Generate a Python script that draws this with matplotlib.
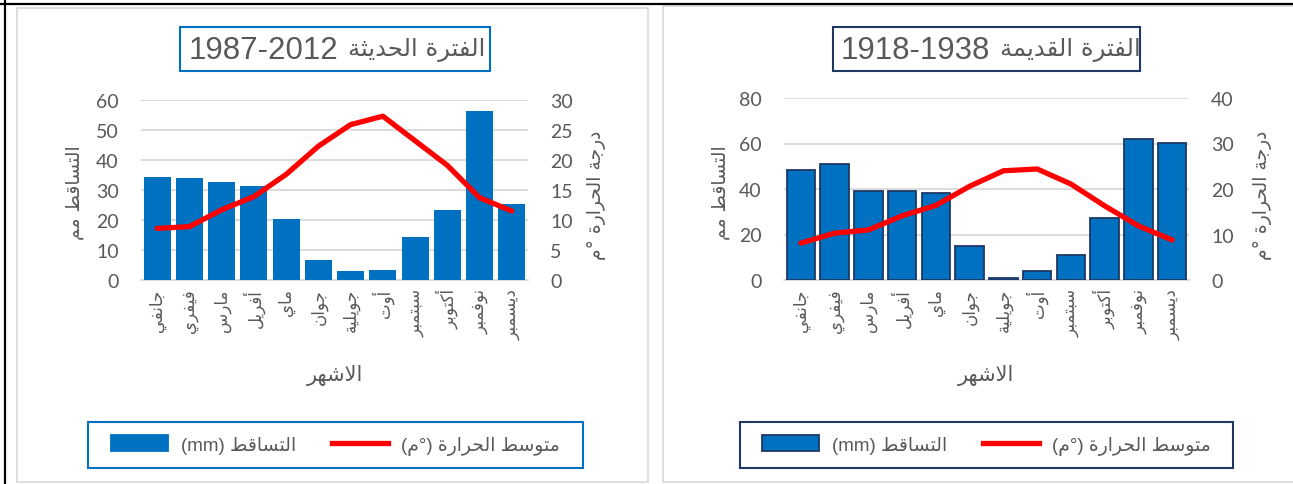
import matplotlib
matplotlib.use("Agg")
import matplotlib.pyplot as plt
from matplotlib.patches import Rectangle, Patch
from matplotlib.lines import Line2D
import numpy as np

# ---- data ----
months = ["جانفي", "فيفري", "مارس", "أفريل", "ماي", "جوان",
          "جويلية", "أوت", "سبتمبر", "أكتوبر", "نوفمبر", "ديسمبر"]

rain_new = [34.5, 34.0, 32.8, 31.4, 20.2, 6.6, 3.0, 3.5, 14.3, 23.4, 56.3, 25.5]
temp_new = [8.6, 8.9, 11.7, 13.9, 17.6, 22.3, 25.9, 27.3, 23.2, 19.1, 13.7, 11.5]

rain_old = [48.3, 51.1, 39.0, 39.0, 38.2, 15.1, 1.0, 4.0, 11.2, 27.2, 62.1, 60.2]
temp_old = [8.1, 10.3, 11.0, 14.1, 16.4, 20.6, 24.0, 24.4, 21.1, 16.3, 11.9, 8.8]

title_new = ("الفترة الحديثة", "1987-2012")
title_old = ("الفترة القديمة", "1918-1938")
rain_label = "التساقط مم"
temp_label = "درجة الحرارة °م"
xlabel = "الاشهر"
leg_rain = ("التساقط", "(mm)")
leg_temp = ("متوسط الحرارة", "م")

# ---- minimal arabic shaping (matplotlib has no text shaping) ----
# char -> (first presentation form, number of forms)
FORMS = {
    '\u0621': (0xFE80, 1), '\u0622': (0xFE81, 2), '\u0623': (0xFE83, 2),
    '\u0624': (0xFE85, 2), '\u0625': (0xFE87, 2), '\u0626': (0xFE89, 4),
    '\u0627': (0xFE8D, 2), '\u0628': (0xFE8F, 4), '\u0629': (0xFE93, 2),
    '\u062A': (0xFE95, 4), '\u062B': (0xFE99, 4), '\u062C': (0xFE9D, 4),
    '\u062D': (0xFEA1, 4), '\u062E': (0xFEA5, 4), '\u062F': (0xFEA9, 2),
    '\u0630': (0xFEAB, 2), '\u0631': (0xFEAD, 2), '\u0632': (0xFEAF, 2),
    '\u0633': (0xFEB1, 4), '\u0634': (0xFEB5, 4), '\u0635': (0xFEB9, 4),
    '\u0636': (0xFEBD, 4), '\u0637': (0xFEC1, 4), '\u0638': (0xFEC5, 4),
    '\u0639': (0xFEC9, 4), '\u063A': (0xFECD, 4), '\u0641': (0xFED1, 4),
    '\u0642': (0xFED5, 4), '\u0643': (0xFED9, 4), '\u0644': (0xFEDD, 4),
    '\u0645': (0xFEE1, 4), '\u0646': (0xFEE5, 4), '\u0647': (0xFEE9, 4),
    '\u0648': (0xFEED, 2), '\u0649': (0xFEEF, 2), '\u064A': (0xFEF1, 4),
}
LAM_ALEF = {'\u0622': 0xFEF5, '\u0623': 0xFEF7, '\u0625': 0xFEF9, '\u0627': 0xFEFB}


def dual(c):
    return c in FORMS and FORMS[c][1] == 4


def joinable(c):
    return c in FORMS and FORMS[c][1] >= 2


def ar(text):
    """shape arabic text and return it in visual (left to right) order"""
    out = []
    i = 0
    n = len(text)
    while i < n:
        c = text[i]
        prev = text[i - 1] if i > 0 else ""
        nxt = text[i + 1] if i + 1 < n else ""
        jp = dual(prev)
        if c not in FORMS:
            out.append(c)
            i += 1
            continue
        if c == '\u0644' and nxt in LAM_ALEF:
            out.append(chr(LAM_ALEF[nxt] + (1 if jp else 0)))
            i += 2
            continue
        start, k = FORMS[c]
        jn = k == 4 and joinable(nxt)
        if k == 1:
            form = 0
        elif jp and jn:
            form = 3
        elif jn:
            form = 2
        elif jp:
            form = 1
        else:
            form = 0
        out.append(chr(start + form))
        i += 1
    return "".join(out)[::-1]


# ---- layout helpers (pixel coordinates, origin top-left) ----
W, H = 1293, 485
fig = plt.figure(figsize=(W / 100, H / 100), dpi=100)


def fx(px):
    return px / W


def fy(py):
    return 1 - py / H


def rect(x0, y0, x1, y1, ec, lw=1.2, z=0):
    r = Rectangle((fx(x0), fy(y1)), fx(x1) - fx(x0), fy(y0) - fy(y1),
                  transform=fig.transFigure, facecolor="white", edgecolor=ec,
                  linewidth=lw, zorder=z)
    fig.add_artist(r)


TXT = "#595959"
BLUE = "#0070C0"
NAVY = "#1F3864"
AR_FONT = ["DejaVu Sans"]
MIX_FONT = ["Liberation Sans", "DejaVu Sans"]

# panels and outer table lines
rect(17, 9, 648, 483, "#D9D9D9")
rect(663, 7, 1300, 483, "#D9D9D9")
fig.add_artist(Line2D([0, 1], [fy(5), fy(5)], transform=fig.transFigure,
                      color="black", lw=1.6))
fig.add_artist(Line2D([fx(5), fx(5)], [0, 1], transform=fig.transFigure,
                      color="black", lw=1.6))


def draw_chart(box, rain, temp, ymax, ystep, tmax, tstep, edge, cx, title,
               title_box, ylab_x, tlab_x, leg_box):
    x0, y0, x1, y1 = box
    ax = fig.add_axes([fx(x0), fy(y1), fx(x1) - fx(x0), fy(y0) - fy(y1)])
    ax.set_zorder(2)
    ax2 = ax.twinx()
    ax2.set_zorder(3)
    x = np.arange(len(months))

    if edge:
        ax.bar(x, rain, width=0.84, color=BLUE, edgecolor=edge, linewidth=1.3,
               zorder=3)
    else:
        ax.bar(x, rain, width=0.84, color=BLUE, zorder=3)
    ax2.plot(x, temp, color="#FF0000", lw=3.8, solid_capstyle="round",
             solid_joinstyle="round")

    ax.set_xlim(-0.5, len(months) - 0.5)
    ax.set_ylim(0, ymax)
    ax.set_yticks(np.arange(0, ymax + 1, ystep))
    ax2.set_ylim(0, tmax)
    ax2.set_yticks(np.arange(0, tmax + 1, tstep))
    ax.yaxis.grid(True, color="#D9D9D9", lw=1.3)
    ax.set_axisbelow(True)
    for a in (ax, ax2):
        for s in a.spines.values():
            s.set_visible(False)
        a.tick_params(length=0, labelsize=14, labelcolor=TXT)
        for lab in a.get_yticklabels():
            lab.set_family("Lato")
    ax.spines["bottom"].set_visible(True)
    ax.spines["bottom"].set_color("#D9D9D9")
    ax.spines["bottom"].set_linewidth(1.3)
    ax.tick_params(axis="y", pad=16)
    ax2.tick_params(axis="y", pad=16)

    ax.set_xticks(x)
    ax.set_xticklabels([ar(m) for m in months], rotation=90, ha="center",
                       va="top", family=AR_FONT, fontsize=12, color=TXT)
    ax.tick_params(axis="x", pad=6)

    # title box: numbers on the left, arabic words on the right
    bx0, bx1, split = title_box
    rect(bx0, 28, bx1, 72, edge or BLUE, lw=1.5, z=1)
    fig.text(fx(split - 6), fy(51), title[1], ha="right", va="center",
             fontsize=22.5, color=TXT, family="Liberation Sans", zorder=2)
    fig.text(fx(split + 4), fy(50), ar(title[0]), ha="left", va="center",
             fontsize=17.5, color=TXT, family=AR_FONT, zorder=2)

    # axis titles
    fig.text(fx(cx), fy(375), ar(xlabel), ha="center", va="center",
             fontsize=15, color=TXT, family=AR_FONT)
    fig.text(fx(ylab_x), fy(193), ar(rain_label), ha="center", va="center",
             rotation=90, fontsize=13.5, color=TXT, family=AR_FONT)
    fig.text(fx(tlab_x), fy(195), ar(temp_label), ha="center", va="center",
             rotation=90, fontsize=13.5, color=TXT, family=AR_FONT)

    # legend
    lx0, lx1 = leg_box
    rect(lx0, 423, lx1, 469, edge or BLUE, lw=1.5, z=1)
    handles = [Patch(facecolor=BLUE, edgecolor=edge or BLUE, lw=1.3),
               Line2D([0], [0], color="#FF0000", lw=3.8)]
    labels = [leg_rain[1] + " " + ar(leg_rain[0]),
              "(" + ar(leg_temp[1]) + "°) " + ar(leg_temp[0])]
    leg = fig.legend(handles, labels, loc="center",
                     bbox_to_anchor=(fx((lx0 + lx1) / 2), fy(446)), ncol=2,
                     frameon=False, handlelength=3.0, handleheight=0.9,
                     handletextpad=0.7, columnspacing=1.9,
                     prop={"family": MIX_FONT, "size": 13.5})
    for t in leg.get_texts():
        t.set_color(TXT)
    leg.set_zorder(5)


draw_chart((141, 101, 528, 281), rain_new, temp_new, 60, 10, 30, 5, None,
           335, title_new, (180, 490, 344), 75, 597, (88, 583))
draw_chart((784, 99, 1189, 281), rain_old, temp_old, 80, 20, 40, 10, NAVY,
           986, title_old, (833, 1140, 996), 720, 1262, (740, 1233))

fig.savefig("out.png", dpi=100)
